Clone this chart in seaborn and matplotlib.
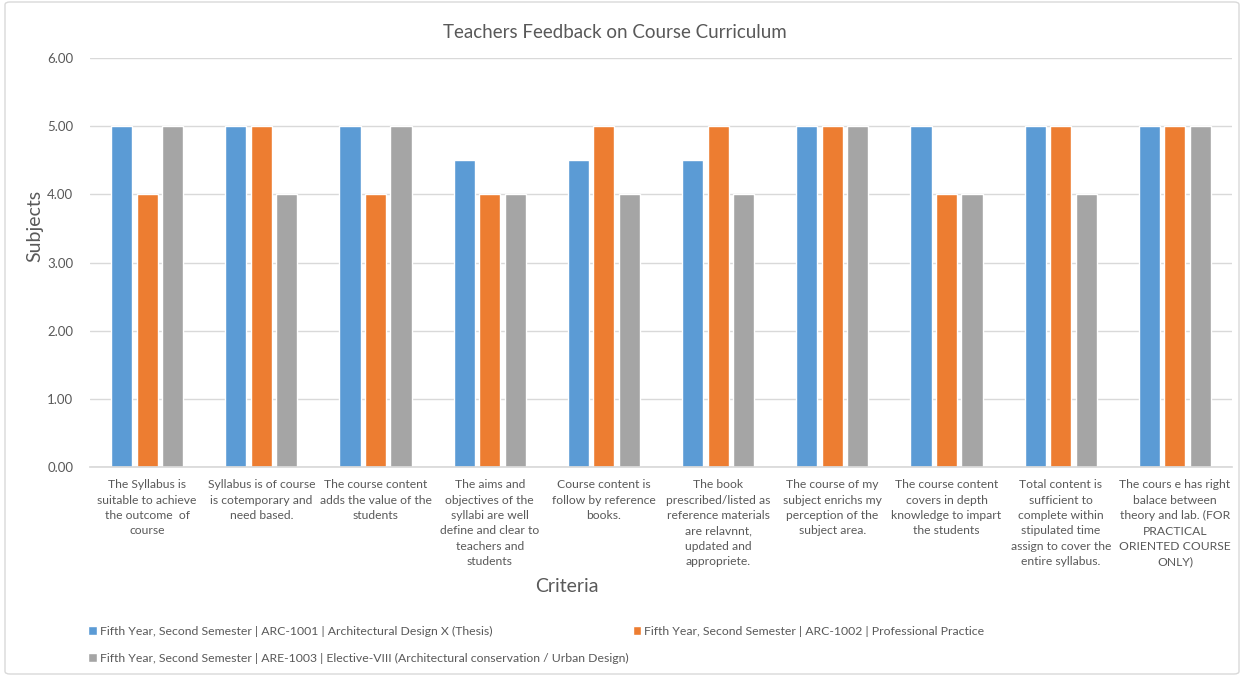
import matplotlib
matplotlib.use("Agg")
import matplotlib.pyplot as plt
import seaborn as sns
import pandas as pd
from matplotlib.patches import FancyBboxPatch

categories = [
    "The Syllabus is\nsuitable to achieve\nthe outcome  of\ncourse",
    "Syllabus is of course\nis cotemporary and\nneed based.",
    "The course content\nadds the value of the\nstudents",
    "The aims and\nobjectives of the\nsyllabi are well\ndefine and clear to\nteachers and\nstudents",
    "Course content is\nfollow by reference\nbooks.",
    "The book\nprescribed/listed as\nreference materials\nare relavnnt,\nupdated and\nappropriete.",
    "The course of my\nsubject enrichs my\nperception of the\nsubject area.",
    "The course content\ncovers in depth\nknowledge to impart\nthe students",
    "Total content is\nsufficient to\ncomplete within\nstipulated time\nassign to cover the\nentire syllabus.",
    "The cours e has right\nbalace between\ntheory and lab. (FOR\nPRACTICAL\nORIENTED COURSE\nONLY)",
]
series_names = [
    "Fifth Year, Second Semester | ARC-1001 | Architectural Design X (Thesis)",
    "Fifth Year, Second Semester | ARC-1002 | Professional Practice",
    "Fifth Year, Second Semester | ARE-1003 | Elective-VIII (Architectural conservation / Urban Design)",
]
arc1001 = [5, 5, 5, 4.5, 4.5, 4.5, 5, 5, 5, 5]
arc1002 = [4, 5, 4, 4, 5, 5, 5, 4, 5, 5]
are1003 = [5, 4, 5, 4, 4, 4, 5, 4, 4, 5]
colors = ["#5B9BD5", "#ED7D31", "#A5A5A5"]
yticks = [0, 1, 2, 3, 4, 5, 6]

rows = []
for name, vals in zip(series_names, [arc1001, arc1002, are1003]):
    for c, v in zip(categories, vals):
        rows.append({"Criteria": c, "Series": name, "Value": v})
df = pd.DataFrame(rows)

sns.set_theme(style="white")
plt.rcParams['font.family'] = ['Lato', 'DejaVu Sans']
text_color = "#595959"

fig = plt.figure(figsize=(12.44, 6.77), dpi=100)
ax = fig.add_axes([90/1244, 1-467/677, (1232-90)/1244, (467-58)/677])

sns.barplot(data=df, x="Criteria", y="Value", hue="Series", order=categories,
            hue_order=series_names, palette=colors, width=0.67, gap=0.17,
            saturation=1, ax=ax, legend=True)

ax.set_ylim(0, 6)
ax.set_yticks(yticks)
ax.set_yticklabels([f"{t:.2f}" for t in yticks], color=text_color, fontsize=9.5)
ax.tick_params(axis='x', length=0, labelsize=8.7, labelcolor=text_color, pad=9)
for lab in ax.get_xticklabels():
    lab.set_linespacing(1.48)
ax.tick_params(axis='y', length=0, pad=12)
ax.yaxis.grid(True, color="#D9D9D9", linewidth=1)
ax.set_axisbelow(True)
for s in ["top", "right", "left"]:
    ax.spines[s].set_visible(False)
ax.spines["bottom"].set_color("#D9D9D9")
ax.set_xlabel("")
ax.set_ylabel("")
ax.set_xlim(-0.5, len(categories) - 0.5)

fig.text(35/1244, 1-226/677, "Subjects", fontsize=14, color=text_color,
         ha="center", va="center", rotation=90)
fig.text(567/1244, 1-586/677, "Criteria", fontsize=14, color=text_color,
         ha="center", va="center")
fig.text(615/1244, 1-32/677, "Teachers Feedback on Course Curriculum",
         fontsize=13.5, color=text_color, ha="center", va="center")

handles, labels = ax.get_legend_handles_labels()
ax.get_legend().remove()
order = [0, 2, 1]
fig.legend([handles[i] for i in order], [labels[i] for i in order],
           loc="upper left", bbox_to_anchor=(88/1244, 1-626/677), ncol=2,
           frameon=False, fontsize=8.8, labelcolor=text_color,
           handlelength=0.7, handleheight=0.7, handletextpad=0.25,
           columnspacing=0.35, labelspacing=1.3, borderaxespad=0, borderpad=0)

border = FancyBboxPatch((5/1244, 3/677), 1234/1244, 672/677,
                        boxstyle="round,pad=0,rounding_size=0.004",
                        transform=fig.transFigure, fill=False,
                        edgecolor="#D9D9D9", linewidth=1)
fig.patches.append(border)

fig.savefig("out.png", dpi=100)
